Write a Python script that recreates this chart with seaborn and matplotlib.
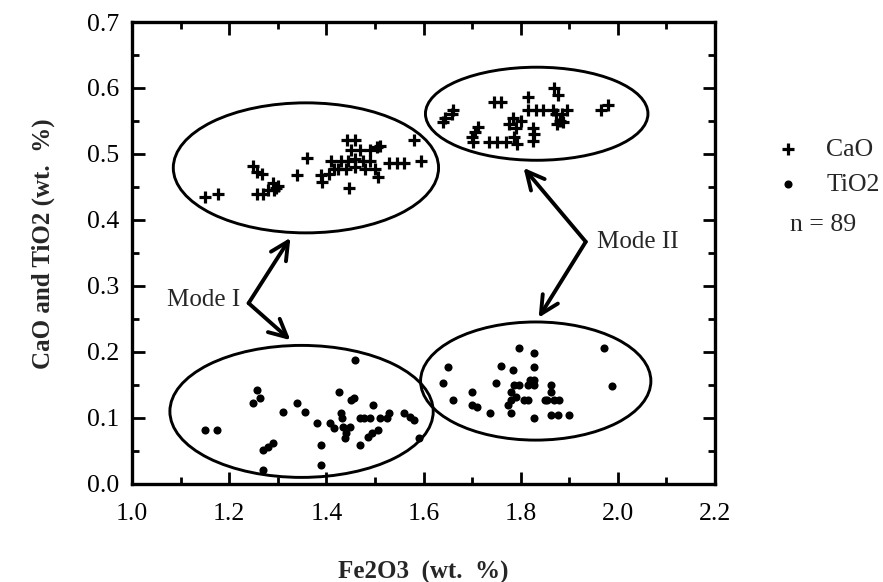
import numpy as np
import pandas as pd
import matplotlib
matplotlib.use("Agg")
import matplotlib.pyplot as plt
import seaborn as sns
from matplotlib.patches import Ellipse
from matplotlib.ticker import MultipleLocator

# ---------------- data ----------------
cao_fe2o3 = [1.150, 1.178, 1.250, 1.258, 1.268, 1.258, 1.270, 1.280, 1.290, 1.296,
             1.300, 1.292, 1.340, 1.360, 1.388, 1.392, 1.405, 1.410, 1.415, 1.443,
             1.460, 1.450, 1.470, 1.490, 1.430, 1.445, 1.460, 1.475, 1.490, 1.425,
             1.440, 1.460, 1.480, 1.500, 1.505, 1.510, 1.507, 1.447, 1.530, 1.546,
             1.560, 1.580, 1.594,
             1.640, 1.645, 1.660, 1.658, 1.700, 1.702, 1.707, 1.713, 1.734, 1.752,
             1.745, 1.760, 1.770, 1.786, 1.792, 1.775, 1.785, 1.790, 1.800, 1.815,
             1.815, 1.825, 1.828, 1.826, 1.832, 1.846, 1.868, 1.876, 1.866, 1.872,
             1.880, 1.875, 1.885, 1.895, 1.888, 1.965, 1.980]
cao = [0.435, 0.440, 0.482, 0.472, 0.470, 0.440, 0.440, 0.445, 0.456, 0.448,
       0.452, 0.445, 0.468, 0.494, 0.468, 0.458, 0.470, 0.490, 0.478, 0.521,
       0.521, 0.506, 0.506, 0.506, 0.490, 0.490, 0.492, 0.490, 0.490, 0.478,
       0.478, 0.480, 0.478, 0.478, 0.510, 0.512, 0.465, 0.448, 0.486, 0.486,
       0.486, 0.521, 0.490,
       0.548, 0.555, 0.567, 0.560, 0.526, 0.518, 0.533, 0.541, 0.518, 0.518,
       0.579, 0.579, 0.518, 0.526, 0.515, 0.545, 0.555, 0.540, 0.550, 0.586,
       0.567, 0.520, 0.530, 0.540, 0.567, 0.567, 0.600, 0.590, 0.567, 0.560,
       0.550, 0.545, 0.560, 0.567, 0.548, 0.567, 0.574]

tio2_fe2o3 = [1.150, 1.175, 1.257, 1.250, 1.264, 1.270, 1.280, 1.290, 1.270, 1.310,
              1.340, 1.357, 1.380, 1.388, 1.388, 1.460, 1.427, 1.450, 1.456, 1.430,
              1.433, 1.408, 1.415, 1.435, 1.440, 1.448, 1.438, 1.470, 1.478, 1.490,
              1.510, 1.497, 1.525, 1.530, 1.485, 1.495, 1.507, 1.470, 1.560, 1.573,
              1.580, 1.590,
              1.650, 1.640, 1.660, 1.700, 1.700, 1.710, 1.736, 1.760, 1.750, 1.785,
              1.796, 1.786, 1.796, 1.780, 1.790, 1.773, 1.780, 1.780, 1.806, 1.816,
              1.816, 1.827, 1.820, 1.827, 1.827, 1.827, 1.827, 1.862, 1.862, 1.855,
              1.868, 1.878, 1.850, 1.862, 1.876, 1.900, 1.971, 1.988]
tio2 = [0.082, 0.082, 0.142, 0.123, 0.130, 0.052, 0.056, 0.062, 0.021, 0.109,
        0.122, 0.109, 0.092, 0.059, 0.029, 0.188, 0.139, 0.127, 0.130, 0.108,
        0.100, 0.092, 0.085, 0.086, 0.078, 0.086, 0.070, 0.100, 0.100, 0.100,
        0.100, 0.120, 0.100, 0.108, 0.071, 0.077, 0.082, 0.059, 0.107, 0.102,
        0.097, 0.070,
        0.177, 0.153, 0.127, 0.140, 0.120, 0.117, 0.108, 0.179, 0.153, 0.173,
        0.206, 0.150, 0.150, 0.140, 0.132, 0.120, 0.127, 0.108, 0.127, 0.127,
        0.150, 0.150, 0.158, 0.158, 0.198, 0.177, 0.100, 0.150, 0.140, 0.128,
        0.128, 0.128, 0.127, 0.105, 0.105, 0.105, 0.206, 0.148]

series_labels = ["CaO", "TiO2"]
n_label = "n = 89"
x_title = "Fe2O3  (wt.  %)"
y_title = "CaO and TiO2 (wt.  %)"
x_ticks = [1.0, 1.2, 1.4, 1.6, 1.8, 2.0, 2.2]
y_ticks = [0.0, 0.1, 0.2, 0.3, 0.4, 0.5, 0.6, 0.7]

# group outlines: (center x, center y, width, height)
groups = [(1.358, 0.479, 0.546, 0.197),
          (1.349, 0.110, 0.542, 0.200),
          (1.833, 0.561, 0.458, 0.141),
          (1.831, 0.156, 0.474, 0.179)]
# mode annotations: label, label anchor, alignment, vertex, arrow tips
modes = [("Mode I", (1.222, 0.279), "right", (1.240, 0.274), [(1.326, 0.373), (1.326, 0.218)]),
         ("Mode II", (1.958, 0.367), "left", (1.934, 0.367), [(1.806, 0.479), (1.837, 0.252)])]

df_cao = pd.DataFrame({"Fe2O3": cao_fe2o3, "value": cao})
df_tio2 = pd.DataFrame({"Fe2O3": tio2_fe2o3, "value": tio2})

# ---------------- plot ----------------
sns.set_theme(style="ticks")
plt.rcParams["font.family"] = ["Liberation Serif", "DejaVu Serif"]

FS = 18.5
fig = plt.figure(figsize=(8.83, 5.82), dpi=100)
ax = fig.add_axes([132 / 883, 1 - 484 / 582, (715 - 132) / 883, (484 - 22) / 582])

sns.scatterplot(data=df_cao, x="Fe2O3", y="value", marker="+", s=85,
                color="black", linewidth=2.3, ax=ax, label=series_labels[0])
sns.scatterplot(data=df_tio2, x="Fe2O3", y="value", marker="o", s=34,
                color="black", edgecolor="black", linewidth=0, ax=ax,
                label=series_labels[1])

for cx, cy, w, h in groups:
    ax.add_patch(Ellipse((cx, cy), w, h, fill=False, edgecolor="black", lw=2.1))

for label, lpos, ha, vertex, tips in modes:
    ax.text(lpos[0], lpos[1], label, ha=ha, va="center", fontsize=18)
    for tip in tips:
        ax.annotate("", xy=tip, xytext=vertex,
                    arrowprops=dict(arrowstyle="->", lw=2.8, color="black",
                                    mutation_scale=32, shrinkA=0, shrinkB=0))

ax.set_xlim(1.0, 2.2)
ax.set_ylim(0.0, 0.7)
ax.set_xticks(x_ticks)
ax.set_xticklabels([f"{t:.1f}" for t in x_ticks])
ax.set_yticks(y_ticks)
ax.set_yticklabels([f"{t:.1f}" for t in y_ticks])
ax.xaxis.set_minor_locator(MultipleLocator(0.1))
ax.yaxis.set_minor_locator(MultipleLocator(0.05))
ax.tick_params(which="both", direction="in", top=True, right=True, width=2,
               color="black", labelsize=FS, labelcolor="black")
ax.tick_params(which="major", length=9)
ax.tick_params(which="minor", length=5)
ax.tick_params(axis="x", which="major", pad=14)
ax.tick_params(axis="y", which="major", pad=9)
for sp in ax.spines.values():
    sp.set_linewidth(2.4)
    sp.set_color("black")

ax.set_xlabel(x_title, fontsize=18, fontweight="bold")
ax.set_ylabel(y_title, fontsize=18, fontweight="bold")
ax.xaxis.set_label_coords(0.5, (484 - 572) / 462)
ax.xaxis.label.set_va("center")
ax.yaxis.set_label_coords((43 - 132) / 583, 0.52)
ax.yaxis.label.set_va("center")

leg = ax.legend(loc="upper left", bbox_to_anchor=(775 / 883, 1 - 138 / 582),
                bbox_transform=fig.transFigure, frameon=False, fontsize=FS,
                borderpad=0, borderaxespad=0, handlelength=1.0,
                handletextpad=1.0, labelspacing=0.46)
fig.text(790 / 883, 1 - 225 / 582, n_label, fontsize=FS, ha="left", va="center")

fig.savefig("out.png", dpi=100, facecolor="white")
